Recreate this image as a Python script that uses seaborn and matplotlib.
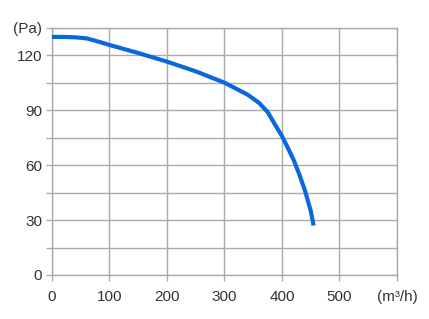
import matplotlib
matplotlib.use("Agg")
import matplotlib.pyplot as plt
import seaborn as sns
import pandas as pd

flow = [0, 20, 40, 60, 80, 100, 150, 200, 250, 300, 340, 360, 375, 390, 400, 410, 420, 430, 440, 450, 455]
pressure = [130, 130, 129.8, 129.2, 127.5, 125.6, 121.2, 116.5, 111.2, 105, 98.5, 94, 89, 81, 75.8, 69.5, 63, 55, 46, 35, 27]
x_ticks = [0, 100, 200, 300, 400, 500, 600]
x_labels = ["0", "100", "200", "300", "400", "500", "(m³/h)"]
y_ticks = [0, 15, 30, 45, 60, 75, 90, 105, 120, 135]
y_labels = ["0", "", "30", "", "60", "", "90", "", "120", "(Pa)"]

sns.set_style("white")
plt.rcParams['font.family'] = ['Liberation Sans', 'DejaVu Sans']

fig = plt.figure(figsize=(4.29, 3.19), dpi=100)
ax = fig.add_axes([0.1212, 0.138, 0.8042, 0.775])

df = pd.DataFrame({"flow": flow, "pressure": pressure})
sns.lineplot(data=df, x="flow", y="pressure", ax=ax, color="#0a68dc", linewidth=3.0,
             solid_capstyle="butt", zorder=3)

ax.set_xlim(0, 600)
ax.set_ylim(0, 135)
ax.set_xticks(x_ticks)
ax.set_xticklabels(x_labels)
ax.set_yticks(y_ticks)
ax.set_yticklabels(y_labels)
ax.set_xlabel("")
ax.set_ylabel("")
ax.grid(True, color="#aaaaaa", linewidth=1.0)
for s in ax.spines.values():
    s.set_color("#aaaaaa")
    s.set_linewidth(1.0)
ax.tick_params(axis="both", length=4, width=1.0, color="#aaaaaa", labelsize=11,
               labelcolor="#333333", left=True, bottom=True)
ax.tick_params(axis="y", pad=3)
ax.tick_params(axis="x", pad=6.5)

fig.savefig("out.png", dpi=100)
